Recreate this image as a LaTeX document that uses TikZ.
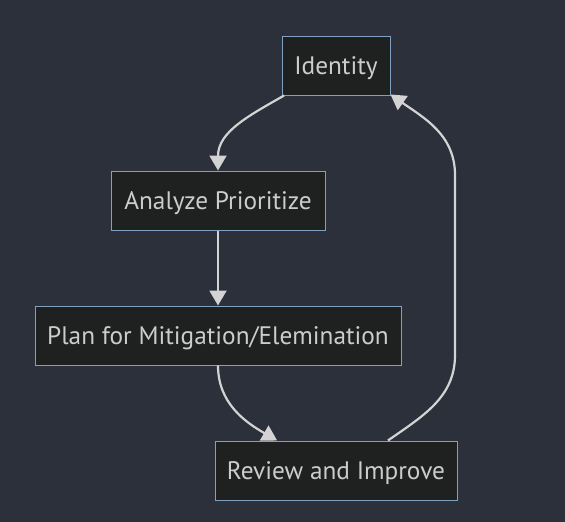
\documentclass[tikz,border=0pt]{standalone}
\usepackage{fontspec}
\setmainfont{PT Sans}
\usetikzlibrary{arrows.meta}
\definecolor{bg-dunkel}{HTML}{2B303B}
\definecolor{box-fill}{HTML}{1F2020}
\definecolor{box-rand}{HTML}{81A1C1}
\definecolor{text-grau}{HTML}{CCCCCC}
\definecolor{pfeil-grau}{HTML}{D3D3D3}

\begin{document}
\begin{tikzpicture}[x=1pt,y=-1pt,
    box/.style={draw=box-rand, fill=box-fill, text=text-grau, line width=1pt,
        minimum height=59pt, inner sep=0pt, text height=17.5pt, text depth=0pt,
        font=\fontsize{25.3}{29}\selectfont},
    flow/.style={draw=pfeil-grau, line width=2.2pt, -{Triangle[length=15pt,width=17pt]}}]

% Hintergrund
\fill[bg-dunkel] (0,0) rectangle (565,522);

\node[box, minimum width=108pt] (idn) at (336,65.5) {Identity};
\node[box, minimum width=214pt] (ana) at (218,200.5) {Analyze Prioritize};
\node[box, minimum width=366pt] (plan) at (218,335.5) {Plan for Mitigation/Elemination};
\node[box, minimum width=242pt] (rev) at (336,470.5) {Review and Improve};

% Rueckweg rechts
\coordinate (rechts-unten) at (455,355);
\coordinate (rechts-oben) at (455,175);

\draw[flow] (idn.-150) to[out=-150,in=90] (ana.north);
\draw[flow] (ana) -- (plan);
\draw[flow] (plan.south) to[out=-90,in=150] (rev.153);
\draw[flow] (rev.30) to[out=35,in=-90] (rechts-unten) -- (rechts-oben)
    to[out=90,in=-35] (idn.-28);
\end{tikzpicture}
\end{document}
